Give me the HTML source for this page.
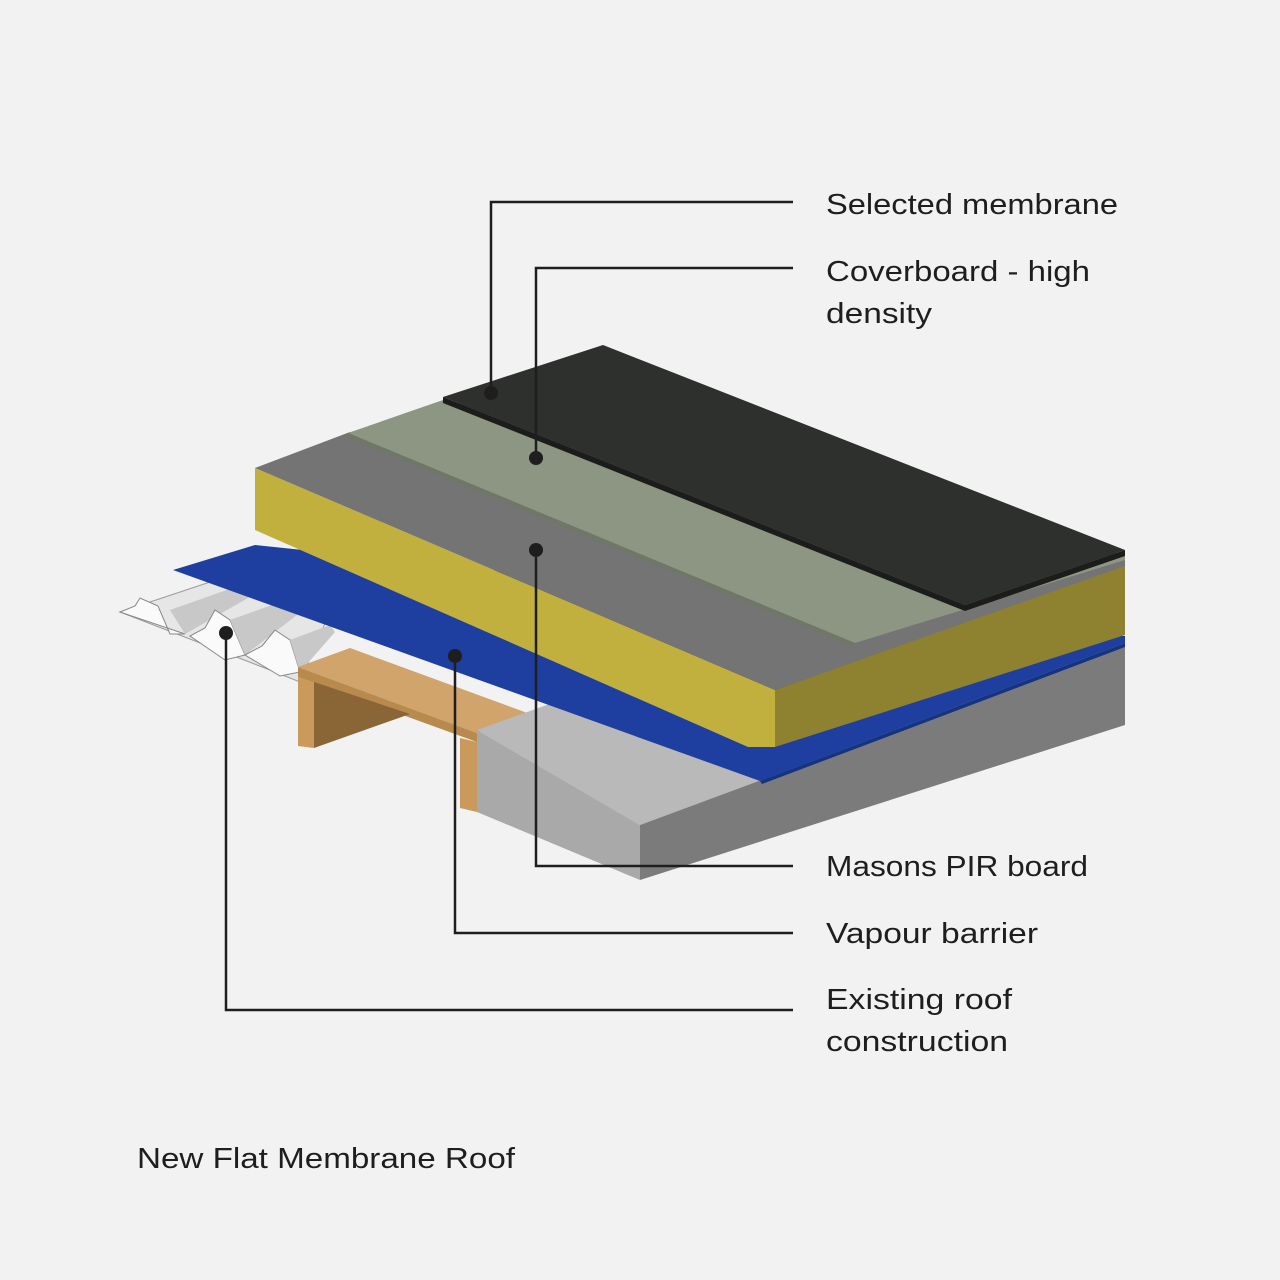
<!DOCTYPE html>
<html><head><meta charset="utf-8"><style>
html,body{margin:0;padding:0;background:#f2f2f2;}
svg{display:block}
text{font-family:"Liberation Sans",sans-serif;font-size:29px;fill:#1e1e1e;}
</style></head><body>
<svg width="1280" height="1280" viewBox="0 0 1280 1280" xmlns="http://www.w3.org/2000/svg">
<rect width="1280" height="1280" fill="#f2f2f2"/>
<!-- steel deck -->
<polygon points="120,612 240,572 335,600 300,682 270,670" fill="#e6e6e6" stroke="#9a9a9a" stroke-width="1"/>
<polygon points="120,612 135,606 140,598 158,606 170,634 185,634" fill="#fafafa" stroke="#888" stroke-width="1"/>
<polygon points="170,610 255,580 262,590 185,634" fill="#c8c8c8"/>
<polygon points="190,636 205,628 215,610 230,620 245,655 225,660" fill="#fafafa" stroke="#888" stroke-width="1"/>
<polygon points="230,620 300,595 310,605 245,655" fill="#c8c8c8"/>
<polygon points="245,655 262,646 275,630 290,640 300,672 280,676" fill="#fafafa" stroke="#888" stroke-width="1"/>
<polygon points="290,640 330,625 335,632 300,672" fill="#c8c8c8"/>
<!-- timber -->
<polygon points="298,667 350,648 530,714 477,733" fill="#d0a46a"/>
<polygon points="298,667 477,733 477,742 298,677" fill="#b98a4e"/>
<polygon points="298,677 314,682 314,748 298,746" fill="#c99a5c"/>
<polygon points="314,682 410,714 314,748" fill="#8a6535"/>
<polygon points="460,738 477,742 477,812 460,808" fill="#c99a5c"/>
<!-- concrete -->
<polygon points="477,730 700,650 1125,645 640,825" fill="#b9b9b9"/>
<polygon points="477,730 640,825 640,880 477,812" fill="#a9a9a9"/>
<polygon points="640,825 1125,645 1125,725 640,880" fill="#7b7b7b"/>
<!-- vapour barrier -->
<polygon points="173,570 255,545 1125,636 1125,643 760,781" fill="#1e3fa0"/>
<polygon points="760,781 1125,643 1125,647 762,784" fill="#163380"/>
<!-- PIR -->
<polygon points="255,468 255,530 748,747 775,747 775,690" fill="#c2b03e"/>
<polygon points="775,690 1125,565 1125,635 775,747" fill="#8e8230"/>
<polygon points="255,468 350,432 1125,558 1125,566 775,690" fill="#747474"/>
<!-- coverboard -->
<polygon points="348,433 443,400 1125,555 1125,560 855,643" fill="#8c9683"/>
<polygon points="348,433 855,643 855,648 348,438" fill="#6f7868"/>
<!-- membrane -->
<polygon points="443,397 603,345 1125,550 965,605" fill="#2e302d"/>
<polygon points="443,397 965,605 1125,550 1125,556 965,611 443,403" fill="#1c1d1b"/>
<!-- leaders -->
<g stroke="#1e1e1e" stroke-width="2.5" fill="none">
<polyline points="491,393 491,202 793,202"/>
<polyline points="536,458 536,268 793,268"/>
<polyline points="536,550 536,866 793,866"/>
<polyline points="455,656 455,933 793,933"/>
<polyline points="226,633 226,1010 793,1010"/>
</g>
<g fill="#1e1e1e">
<circle cx="491" cy="393" r="7"/>
<circle cx="536" cy="458" r="7"/>
<circle cx="536" cy="550" r="7"/>
<circle cx="455" cy="656" r="7"/>
<circle cx="226" cy="633" r="7"/>
</g>
<text x="826" y="214" textLength="292" lengthAdjust="spacingAndGlyphs">Selected membrane</text>
<text x="826" y="281" textLength="264" lengthAdjust="spacingAndGlyphs">Coverboard - high</text>
<text x="826" y="323" textLength="106" lengthAdjust="spacingAndGlyphs">density</text>
<text x="826" y="876" textLength="262" lengthAdjust="spacingAndGlyphs">Masons PIR board</text>
<text x="826" y="943" textLength="212" lengthAdjust="spacingAndGlyphs">Vapour barrier</text>
<text x="826" y="1009" textLength="186" lengthAdjust="spacingAndGlyphs">Existing roof</text>
<text x="826" y="1051" textLength="182" lengthAdjust="spacingAndGlyphs">construction</text>
<text x="137" y="1168" textLength="378" lengthAdjust="spacingAndGlyphs">New Flat Membrane Roof</text>
</svg>
</body></html>
